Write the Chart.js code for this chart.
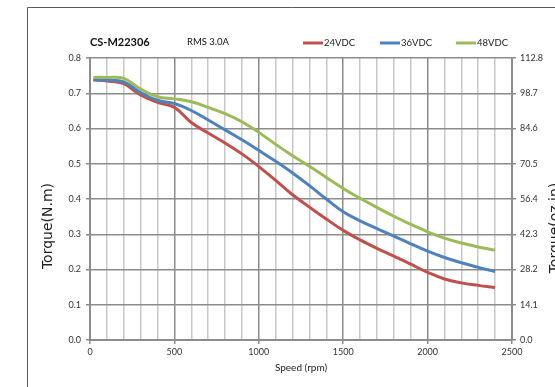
<!DOCTYPE html>
<html>
<head>
<meta charset="utf-8">
<script src="https://cdn.jsdelivr.net/npm/chart.js@4.4.0/dist/chart.umd.min.js"></script>
<style>
  html, body { margin: 0; padding: 0; background: #fff; }
  #wrap { width: 555px; height: 387px; position: relative; }
</style>
</head>
<body>
<div id="wrap"><canvas id="chart" width="555" height="387"></canvas></div>
<script>
// ------------------------------------------------------------
// Data
// ------------------------------------------------------------
const speedRpm = [20, 100, 200, 300, 400, 500, 600, 700, 800, 900, 1000, 1100, 1200,
  1300, 1400, 1500, 1600, 1700, 1800, 1900, 2000, 2100, 2200, 2300, 2400];
const torque24 = [0.738, 0.735, 0.727, 0.695, 0.674, 0.660, 0.617, 0.587, 0.559, 0.528, 0.492, 0.453, 0.412,
  0.377, 0.343, 0.311, 0.284, 0.260, 0.238, 0.215, 0.192, 0.173, 0.162, 0.155, 0.149];
const torque36 = [0.738, 0.737, 0.732, 0.702, 0.680, 0.671, 0.651, 0.624, 0.596, 0.568, 0.538, 0.507, 0.474,
  0.438, 0.400, 0.364, 0.338, 0.316, 0.295, 0.273, 0.252, 0.234, 0.219, 0.206, 0.194];
const torque48 = [0.745, 0.745, 0.742, 0.712, 0.690, 0.684, 0.676, 0.660, 0.642, 0.619, 0.589, 0.555, 0.523,
  0.493, 0.461, 0.430, 0.402, 0.376, 0.351, 0.328, 0.307, 0.289, 0.275, 0.264, 0.255];
const seriesLabels = ['24VDC', '36VDC', '48VDC'];
const seriesColors = ['#C0504D', '#4F81BD', '#9BBB59'];
const rightTicks = [0.0, 14.1, 28.2, 42.3, 56.4, 70.5, 84.6, 98.7, 112.8];

const GRID_DARK = '#8c8c8c';
const GRID_LIGHT = '#c8c8c8';
const TICK_FONT = { family: 'Lato', size: 9 };

function toPoints(values) {
  return speedRpm.map((x, i) => ({ x: x, y: values[i] }));
}

// ------------------------------------------------------------
// Title, legend, axis titles and frame
// ------------------------------------------------------------
const decorPlugin = {
  id: 'decor',
  beforeDraw(chart) {
    const ctx = chart.ctx;
    ctx.save();
    ctx.fillStyle = '#fff';
    ctx.fillRect(0, 0, chart.width, chart.height);
    ctx.restore();
  },
  afterDraw(chart) {
    const ctx = chart.ctx;
    const area = chart.chartArea;
    ctx.save();

    // frame
    ctx.strokeStyle = '#5a5a5a';
    ctx.lineWidth = 1;
    ctx.beginPath();
    ctx.moveTo(27.5, chart.height);
    ctx.lineTo(27.5, 7.5);
    ctx.lineTo(chart.width, 7.5);
    ctx.stroke();

    // title
    ctx.fillStyle = '#111';
    ctx.textBaseline = 'middle';
    ctx.textAlign = 'left';
    ctx.font = 'bold 11px Lato';
    ctx.fillText('CS-M22306', 90, 42);
    ctx.font = '9.5px Lato';
    ctx.fillText('RMS 3.0A', 187, 42);

    // legend
    const legendX = [303, 380, 456];
    seriesLabels.forEach((label, i) => {
      ctx.strokeStyle = seriesColors[i];
      ctx.lineWidth = 3;
      ctx.beginPath();
      ctx.moveTo(legendX[i], 43);
      ctx.lineTo(legendX[i] + 20, 43);
      ctx.stroke();
      ctx.fillStyle = '#222';
      ctx.font = '9.5px Lato';
      ctx.fillText(label, legendX[i] + 21, 43);
    });

    // x axis title
    ctx.textAlign = 'center';
    ctx.font = '10px Lato';
    ctx.fillText('Speed (rpm)', (area.left + area.right) / 2, 368);

    // left axis title
    ctx.font = '14px "DejaVu Sans"';
    ctx.fillStyle = '#222';
    ctx.save();
    ctx.translate(48, 226);
    ctx.rotate(-Math.PI / 2);
    ctx.fillText('Torque(N.m)', 0, 0);
    ctx.restore();

    // right axis title (cut off by the edge, as in the reference)
    ctx.save();
    ctx.translate(559, 228);
    ctx.rotate(-Math.PI / 2);
    ctx.textBaseline = 'alphabetic';
    ctx.fillText('Torque(oz.in)', 0, 0);
    ctx.restore();

    ctx.restore();
  }
};

// ------------------------------------------------------------
// Chart
// ------------------------------------------------------------
const datasets = [torque24, torque36, torque48].map((values, i) => ({
  label: seriesLabels[i],
  data: toPoints(values),
  borderColor: seriesColors[i],
  backgroundColor: seriesColors[i],
  borderWidth: 3,
  pointRadius: 0,
  tension: 0.4,
  order: 2 - i
}));

new Chart(document.getElementById('chart'), {
  type: 'line',
  data: { datasets: datasets },
  options: {
    responsive: false,
    animation: false,
    layout: { padding: { top: 58, left: 0, right: 0, bottom: 0 } },
    plugins: {
      legend: { display: false },
      tooltip: { enabled: false }
    },
    scales: {
      x: {
        type: 'linear',
        min: 0,
        max: 2500,
        afterFit(scale) { scale.height = 47; },
        ticks: {
          stepSize: 100,
          autoSkip: false,
          maxRotation: 0,
          padding: 3,
          color: '#333',
          font: TICK_FONT,
          callback: v => (v % 500 === 0 ? v : '')
        },
        grid: {
          lineWidth: 1.5,
          tickLength: 4,
          color: ctx => (ctx.tick && ctx.tick.value % 500 === 0 ? GRID_DARK : GRID_LIGHT),
          tickColor: ctx => (ctx.tick && ctx.tick.value % 500 === 0 ? GRID_DARK : 'rgba(0,0,0,0)')
        },
        border: { color: GRID_DARK, width: 2 }
      },
      y: {
        min: 0,
        max: 0.8,
        afterFit(scale) { scale.width = 90; },
        ticks: {
          stepSize: 0.1,
          padding: 5,
          color: '#333',
          font: TICK_FONT,
          callback: v => v.toFixed(1)
        },
        grid: { lineWidth: 1.5, tickLength: 4, color: GRID_DARK },
        border: { color: GRID_DARK, width: 2 }
      },
      y2: {
        position: 'right',
        min: 0,
        max: 112.8,
        afterFit(scale) { scale.width = 43; },
        afterBuildTicks(scale) {
          scale.ticks = rightTicks.map(v => ({ value: v }));
        },
        ticks: {
          padding: 4,
          color: '#333',
          font: TICK_FONT,
          callback: v => Number(v).toFixed(1)
        },
        grid: { drawOnChartArea: false, lineWidth: 1.5, tickLength: 4, color: GRID_DARK },
        border: { color: GRID_DARK, width: 2 }
      }
    }
  },
  plugins: [decorPlugin]
});
</script>
</body>
</html>
